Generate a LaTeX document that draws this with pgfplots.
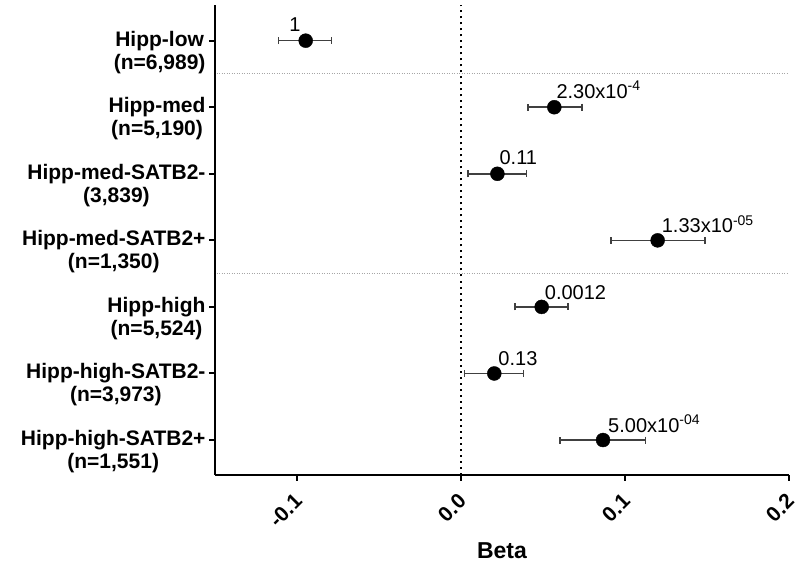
\documentclass[border=0pt]{standalone}
\usepackage{pgfplots}
\pgfplotsset{compat=1.18}
\usepackage{fontspec}
\setmainfont{Liberation Sans}

\begin{document}
\begin{tikzpicture}
\useasboundingbox (-215pt,-87.5pt) rectangle (585pt,474.5pt);
\begin{axis}[
  at={(0,0)}, anchor=south west,
  scale only axis, width=574pt, height=469.5pt,
  xmin=-0.15, xmax=0.2, ymin=0.482, ymax=7.536,
  axis x line*=bottom, axis y line*=left,
  axis line style={line width=2pt, -},
  xtick={-0.1,0,0.1,0.2},
  xticklabels={-0.1,0.0,0.1,0.2},
  ytick={1,2,3,4,5,6,7},
  yticklabels={{Hipp-high-SATB2+\\(n=1,551)},{Hipp-high-SATB2-\\(n=3,973)},{Hipp-high\\(n=5,524)},{Hipp-med-SATB2+\\(n=1,350)},{Hipp-med-SATB2-\\(3,839)},{Hipp-med\\(n=5,190)},{Hipp-low\\(n=6,989)}},
  tick align=outside, major tick length=6pt,
  tick style={line width=2pt, black},
  /pgf/number format/assume math mode=true,
  yticklabel style={font=\fontsize{21}{23}\selectfont\bfseries, align=center, yshift=-11.5pt},
  xticklabel style={font=\fontsize{21}{23}\selectfont\bfseries, rotate=45, anchor=east, inner sep=1pt, yshift=-13pt, xshift=-10pt},
  xlabel={Beta},
  xlabel style={font=\fontsize{23}{25}\selectfont\bfseries, yshift=-9pt},
  clip=false,
]
\addplot[gray!70, line width=1pt, dash pattern=on 1pt off 1.5pt] coordinates {(-0.149,6.5) (0.2,6.5)};
\addplot[gray!70, line width=1pt, dash pattern=on 1pt off 1.5pt] coordinates {(-0.149,3.5) (0.2,3.5)};
\addplot[black, line width=2pt, dash pattern=on 2pt off 4pt] coordinates {(0,0.482) (0,7.536)};
\addplot[only marks, mark=*, mark size=7pt, black,
  error bars/.cd, x dir=both, x explicit, error mark=|,
  error bar style={line width=1.5pt, black!75},
  error mark options={line width=1.5pt, black!75, mark size=3.5pt}]
coordinates {
 (-0.0947,7) += (0.0158,0) -= (0.0165,0)
 (0.0569,6) += (0.0169,0) -= (0.0160,0)
 (0.0222,5) += (0.0176,0) -= (0.0179,0)
 (0.1199,4) += (0.0289,0) -= (0.0284,0)
 (0.0492,3) += (0.0160,0) -= (0.0163,0)
 (0.0203,2) += (0.0177,0) -= (0.0183,0)
 (0.0866,1) += (0.0260,0) -= (0.0262,0)
};
\begin{scope}[every node/.style={font=\fontsize{20}{22}\selectfont, inner sep=0pt}]
\node[anchor=base east, xshift=-5pt, yshift=9pt] at (axis cs:-0.0947,7) {1};
\node[anchor=base west, xshift=2pt, yshift=9pt] at (axis cs:0.0569,6) {2.30x10\textsuperscript{-4}};
\node[anchor=base west, xshift=2pt, yshift=9pt] at (axis cs:0.0222,5) {0.11};
\node[anchor=base west, xshift=4pt, yshift=7.5pt] at (axis cs:0.1199,4) {1.33x10\textsuperscript{-05}};
\node[anchor=base west, xshift=3pt, yshift=7.5pt] at (axis cs:0.0492,3) {0.0012};
\node[anchor=base west, xshift=4pt, yshift=7.5pt] at (axis cs:0.0203,2) {0.13};
\node[anchor=base west, xshift=5pt, yshift=7.5pt] at (axis cs:0.0866,1) {5.00x10\textsuperscript{-04}};
\end{scope}
\end{axis}
\end{tikzpicture}
\end{document}
